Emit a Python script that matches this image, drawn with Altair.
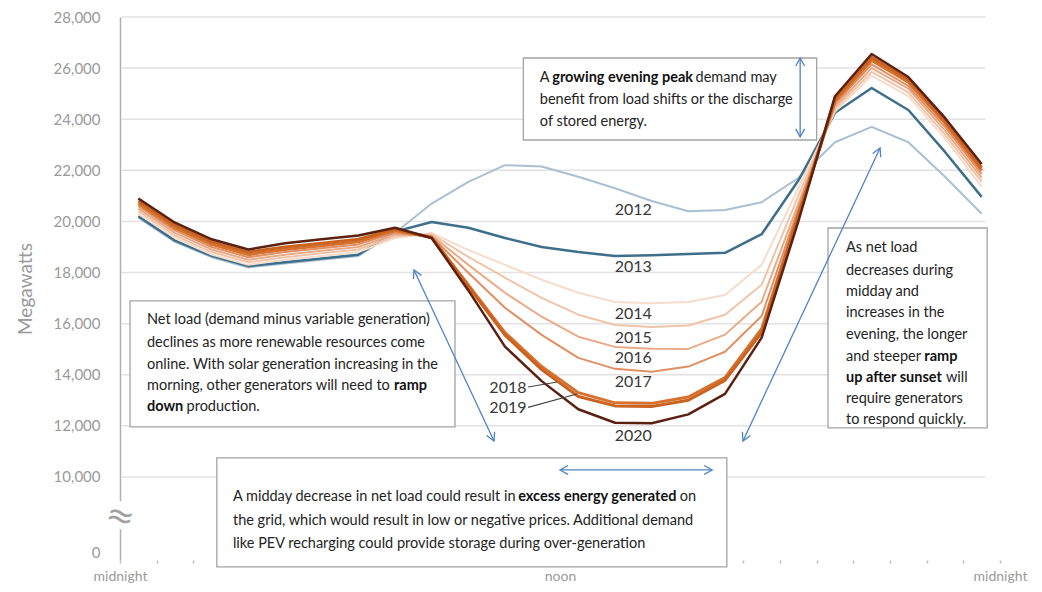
import math
import altair as alt
import pandas as pd

# ---------------- data ----------------
HOURS = [0.5, 1.5, 2.5, 3.5, 4.5, 5.5, 6.5, 7.5, 8.5, 9.5, 10.5, 11.5,
         12.5, 13.5, 14.5, 15.5, 16.5, 17.5, 18.5, 19.5, 20.5, 21.5, 22.5, 23.5]

YEARS = ["2012", "2013", "2014", "2015", "2016", "2017", "2018", "2019", "2020"]

MW_2012 = [20150, 19200, 18600, 18200, 18350, 18500, 18650, 19550, 20700, 21550, 22200, 22150,
           21750, 21300, 20800, 20400, 20450, 20750, 21700, 23100, 23700, 23100, 21750, 20300]
MW_2013 = [20200, 19250, 18650, 18250, 18400, 18550, 18700, 19600, 19980, 19750, 19350, 19000,
           18800, 18650, 18680, 18730, 18770, 19500, 21600, 24250, 25220, 24360, 22720, 20960]
MW_2014 = [20300, 19350, 18700, 18300, 18500, 18650, 18800, 19350, 19550, 18880, 18300, 17720,
           17210, 16850, 16800, 16850, 17120, 18300, 21300, 24300, 25700, 24900, 23250, 21350]
MW_2015 = [20400, 19450, 18800, 18400, 18600, 18750, 18900, 19420, 19500, 18610, 17800, 17010,
           16350, 15950, 15870, 15930, 16350, 17520, 21000, 24400, 25850, 25050, 23400, 21550]
MW_2016 = [20500, 19550, 18900, 18500, 18700, 18850, 19000, 19500, 19450, 18300, 17210, 16270,
           15490, 15090, 15020, 15010, 15570, 16860, 20700, 24500, 26000, 25200, 23550, 21700]
MW_2017 = [20600, 19650, 19000, 18600, 18800, 18950, 19100, 19560, 19400, 17990, 16620, 15560,
           14660, 14230, 14120, 14320, 14900, 16300, 20500, 24600, 26150, 25300, 23700, 21850]
MW_2018 = [20700, 19750, 19100, 18700, 18900, 19050, 19200, 19640, 19380, 17520, 15650, 14320,
           13300, 12900, 12880, 13130, 13890, 15800, 20300, 24700, 26300, 25450, 23850, 22000]
MW_2019 = [20800, 19850, 19200, 18800, 19000, 19150, 19300, 19700, 19360, 17450, 15550, 14200,
           13150, 12780, 12760, 13000, 13780, 15650, 20200, 24800, 26420, 25550, 23950, 22100]
MW_2020 = [20900, 19950, 19300, 18900, 19150, 19300, 19450, 19750, 19350, 17300, 15100, 13750,
           12650, 12120, 12100, 12450, 13250, 15450, 20000, 24900, 26550, 25650, 24050, 22250]

SERIES = {"2012": MW_2012, "2013": MW_2013, "2014": MW_2014, "2015": MW_2015, "2016": MW_2016,
          "2017": MW_2017, "2018": MW_2018, "2019": MW_2019, "2020": MW_2020}

GRID_VALUES = [10000, 12000, 14000, 16000, 18000, 20000, 22000, 24000, 26000, 28000]
Y_TICKS = [7050, 10000, 12000, 14000, 16000, 18000, 20000, 22000, 24000, 26000, 28000]
X_TICKS = [0, 1, 2, 3, 4, 5, 6, 7, 8, 9, 10, 11, 12, 13, 14, 15, 16, 17, 18, 19, 20, 21, 22, 23, 24]

# ---------------- styles ----------------
COLORS = {"2012": "#a9c0d2", "2013": "#3d6f8b", "2014": "#f6dccb", "2015": "#f0c4a8",
          "2016": "#e9aa87", "2017": "#e09064", "2018": "#d6722f", "2019": "#c9631f",
          "2020": "#5c2010"}
WIDTHS = {"2012": 2, "2013": 2.5, "2014": 2, "2015": 2, "2016": 2, "2017": 2,
          "2018": 3, "2019": 3, "2020": 2.5}

W, H = 880, 543
XDOM = [0, 24]
YDOM = [6750, 28000]
PXH = W / (XDOM[1] - XDOM[0])
PXM = H / (YDOM[1] - YDOM[0])

AX_GRAY = "#9a9a9a"
TXT = "#232323"
BLUE = "#4f83c4"
FONT = "Lato"
FS = 14.5
KLATO = 1.065
BOLD_K = 1.018

xs = alt.Scale(domain=XDOM, nice=False, zero=False)
ys = alt.Scale(domain=YDOM, nice=False, zero=False)

# ---------------- line data ----------------
rows = []
for yr in YEARS:
    for h, v in zip(HOURS, SERIES[yr]):
        rows.append({"year": yr, "hour": h, "mw": v})
df = pd.DataFrame(rows)

x_axis = alt.Axis(values=X_TICKS, title=None, grid=False, domain=False, ticks=True, tickSize=3,
                  tickColor="#bdbdbd", tickWidth=1.5,
                  labelExpr="datum.value == 12 ? 'noon' : ((datum.value == 0 || datum.value == 24) ? 'midnight' : '')",
                  labelColor=AX_GRAY, labelFont=FONT, labelFontSize=14, labelPadding=6,
                  labelOverlap=False, labelFlush=False)
y_axis = alt.Axis(values=Y_TICKS, title="Megawatts", grid=False, ticks=False, domain=True,
                  domainColor="#b0b0b0", domainWidth=1.5,
                  labelExpr="datum.value < 9000 ? '0' : format(datum.value, ',')",
                  labelColor=AX_GRAY, labelFont=FONT, labelFontSize=15, labelPadding=20,
                  titleColor=AX_GRAY, titleFont=FONT, titleFontSize=19, titleFontWeight="normal",
                  titlePadding=18)


def X(field="hour", axis=None):
    if axis is None:
        return alt.X(f"{field}:Q", scale=xs, title=None)
    return alt.X(f"{field}:Q", scale=xs, axis=axis, title=None)


def Y(field="mw", axis=None):
    if axis is None:
        return alt.Y(f"{field}:Q", scale=ys, title="Megawatts")
    return alt.Y(f"{field}:Q", scale=ys, axis=axis, title="Megawatts")


# gridlines
grid_df = pd.DataFrame({"mw": GRID_VALUES, "hour": [0.03] * len(GRID_VALUES),
                        "hour2": [23.6] * len(GRID_VALUES)})
grid = alt.Chart(grid_df).mark_rule(color="#e2e2e2", strokeWidth=1.5).encode(
    x=X("hour", x_axis), x2="hour2:Q", y=Y("mw", y_axis))

line_layers = []
for yr in YEARS:
    line_layers.append(
        alt.Chart(df).transform_filter(alt.datum.year == yr).mark_line(
            color=COLORS[yr], strokeWidth=WIDTHS[yr], strokeJoin="round"
        ).encode(x=X("hour", x_axis), y=Y("mw", y_axis))
    )

# ---------------- annotation boxes ----------------
BOXES = pd.DataFrame({
    "hour":  [11.0, 0.273, 2.64, 19.31],
    "hour2": [19.0, 9.136, 16.55, 23.65],
    "mw":    [26396, 16887, 10743, 19743],
    "mw2":   [23187, 11957, 6478, 11917],
})
boxes = alt.Chart(BOXES).mark_rect(fill="white", stroke="#a3a3a3", strokeWidth=1.3).encode(
    x=X("hour", x_axis), x2="hour2:Q", y=Y("mw", y_axis), y2="mw2:Q")

CAL = {' ': 463, '!': 667, '(': 621, ')': 621, ',': 511, '-': 627, '.': 517}
for d in "0123456789":
    CAL[d] = 1038
CAL.update({'A': 1185, 'B': 1114, 'C': 1092, 'D': 1260, 'E': 1000, 'F': 941, 'G': 1292, 'H': 1276,
            'I': 516, 'J': 653, 'K': 1064, 'L': 861, 'M': 1751, 'N': 1322, 'O': 1356, 'P': 1058,
            'Q': 1378, 'R': 1112, 'S': 941, 'T': 998, 'U': 1314, 'V': 1162, 'W': 1822, 'X': 1063,
            'Y': 998, 'Z': 959,
            'a': 981, 'b': 1076, 'c': 866, 'd': 1076, 'e': 1019, 'f': 625, 'g': 964, 'h': 1076,
            'i': 470, 'j': 490, 'k': 931, 'l': 470, 'm': 1636, 'n': 1076, 'o': 1080, 'p': 1076,
            'q': 1076, 'r': 714, 's': 801, 't': 686, 'u': 1076, 'v': 925, 'w': 1464, 'x': 887,
            'y': 927, 'z': 809})


def text_px(s, bold):
    w = sum(CAL.get(c, 1000) for c in s) / 2048.0 * FS * KLATO
    return w * (BOLD_K if bold else 1.0)


BOX1_LINES = [[("A ", False), ("growing evening peak", True), (" demand may", False)],
              [("benefit from load shifts or the discharge", False)],
              [("of stored energy.", False)]]
BOX1_X = 11.45
BOX1_Y = [25613, 24752, 23891]

BOX2_LINES = [[("Net load (demand minus variable generation)", False)],
              [("declines as more renewable resources come", False)],
              [("online. With solar generation increasing in the", False)],
              [("morning, other generators will need to ", False), ("ramp", True)],
              [("down", True), (" production.", False)]]
BOX2_X = 0.736
BOX2_Y = [16143, 15243, 14383, 13561, 12739]

BOX3_LINES = [[("A midday decrease in net load could result in ", False),
               ("excess energy generated", True), (" on", False)],
              [("the grid, which would result in low or negative prices. Additional demand", False)],
              [("like PEV recharging could provide storage during over-generation", False)]]
BOX3_X = 3.08
BOX3_Y = [9218, 8278, 7378]

BOX4_LINES = [[("As net load", False)], [("decreases during", False)], [("midday and", False)],
              [("increases in the", False)], [("evening, the longer", False)],
              [("and steeper ", False), ("ramp", True)],
              [("up after sunset", True), (" will", False)],
              [("require generators", False)], [("to respond quickly.", False)]]
BOX4_X = 19.80
BOX4_Y = [18961, 18061, 17239, 16418, 15557, 14696, 13874, 13052, 12231]

trows = []
for lines, x0, ylist in [(BOX1_LINES, BOX1_X, BOX1_Y), (BOX2_LINES, BOX2_X, BOX2_Y),
                         (BOX3_LINES, BOX3_X, BOX3_Y), (BOX4_LINES, BOX4_X, BOX4_Y)]:
    for segs, yv in zip(lines, ylist):
        cur = 0.0
        for seg, bold in segs:
            lead = len(seg) - len(seg.lstrip())
            start = cur + text_px(seg[:lead], bold)
            trows.append({"hour": x0 + start / PXH, "mw": yv, "text": seg.strip(), "bold": bold})
            cur += text_px(seg, bold)
tdf = pd.DataFrame(trows)

text_norm = alt.Chart(tdf[~tdf["bold"]]).mark_text(
    align="left", baseline="middle", font=FONT, fontSize=FS, color=TXT).encode(
    x=X("hour", x_axis), y=Y("mw", y_axis), text="text:N")
text_bold = alt.Chart(tdf[tdf["bold"]]).mark_text(
    align="left", baseline="middle", font=FONT, fontSize=FS, fontWeight="bold", color="#111").encode(
    x=X("hour", x_axis), y=Y("mw", y_axis), text="text:N")

# ---------------- year labels ----------------
LABEL_TEXT = ["2012", "2013", "2014", "2015", "2016", "2017", "2018", "2019", "2020"]
LABEL_HOUR = [14.0, 14.0, 14.0, 14.0, 14.0, 14.0, 10.58, 10.58, 14.0]
LABEL_MW = [20448, 18218, 16378, 15439, 14657, 13717, 13500, 12700, 11604]
ldf = pd.DataFrame({"hour": LABEL_HOUR, "mw": LABEL_MW, "text": LABEL_TEXT})
year_labels = alt.Chart(ldf).mark_text(font=FONT, fontSize=16, color="#383838",
                                       align="center", baseline="middle").encode(
    x=X("hour", x_axis), y=Y("mw", y_axis), text="text:N")

LEADERS = pd.DataFrame({"hour": [11.13, 11.13], "hour2": [11.92, 12.46],
                        "mw": [13520, 12720], "mw2": [13717, 13248]})
leaders = alt.Chart(LEADERS).mark_rule(color="#444", strokeWidth=1.2).encode(
    x=X("hour", x_axis), x2="hour2:Q", y=Y("mw", y_axis), y2="mw2:Q")

# ---------------- arrows ----------------
ARROWS = [((8.018, 18100), (10.20, 11409)),
          ((16.99, 11409), (20.73, 22874)),
          ((12.00, 10274), (16.15, 10274)),
          ((18.55, 26396), (18.55, 23304))]
arows, hrows = [], []
for (h1, m1), (h2, m2) in ARROWS:
    arows.append({"hour": h1, "mw": m1, "hour2": h2, "mw2": m2})
    for (ha, ma), (hb, mb) in [((h1, m1), (h2, m2)), ((h2, m2), (h1, m1))]:
        dx = (ha - hb) * PXH
        dy = -(ma - mb) * PXM
        ang = math.degrees(math.atan2(dx, -dy)) % 360
        hrows.append({"hour": ha, "mw": ma, "ang": ang})
shafts = alt.Chart(pd.DataFrame(arows)).mark_rule(color=BLUE, strokeWidth=1.3).encode(
    x=X("hour", x_axis), x2="hour2:Q", y=Y("mw", y_axis), y2="mw2:Q")
heads = alt.Chart(pd.DataFrame(hrows)).mark_point(
    shape="M -0.55 1 L 0 0 L 0.55 1", filled=False, size=260, strokeWidth=1.3,
    color=BLUE, opacity=1).encode(
    x=X("hour", x_axis), y=Y("mw", y_axis), angle=alt.Angle("ang:Q", scale=None))

# ---------------- axis break ----------------
brk_gap = alt.Chart(pd.DataFrame({"hour": [-0.12], "hour2": [0.12], "mw": [7950], "mw2": [9050]})
                    ).mark_rect(fill="white").encode(
    x=X("hour", x_axis), x2="hour2:Q", y=Y("mw", y_axis), y2="mw2:Q")
brk = alt.Chart(pd.DataFrame({"hour": [0.0], "mw": [8435], "text": ["≈"]})).mark_text(
    font="DejaVu Sans", fontSize=34, color="#a0a0a0", angle=15, align="center",
    baseline="middle").encode(x=X("hour", x_axis), y=Y("mw", y_axis), text="text:N")

chart = alt.layer(grid, *line_layers, boxes, text_norm, text_bold, year_labels, leaders,
                  shafts, heads, brk_gap, brk).properties(
    width=W, height=H,
    autosize=alt.AutoSizeParams(type="none"),
    padding={"left": 112, "top": 9, "right": 34, "bottom": 24},
    background="white",
).configure_view(strokeWidth=0)

chart.save("out.html", embed_options={"renderer": "svg", "actions": False})
